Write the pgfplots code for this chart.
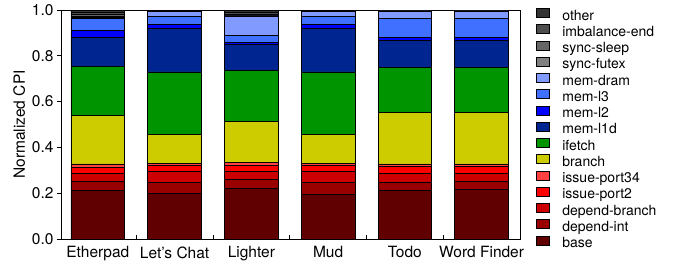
\documentclass[border=0pt]{standalone}
\usepackage{fontspec}
\setmainfont{TeX Gyre Heros}
\usepackage{pgfplots}
\usepackage{pgfplotstable}
\pgfplotsset{compat=1.18}

\definecolor{cother}{HTML}{333333}
\definecolor{cimb}{HTML}{4D4D4D}
\definecolor{csleep}{HTML}{666666}
\definecolor{cfutex}{HTML}{808080}
\definecolor{cdram}{HTML}{809AFF}
\definecolor{cl3}{HTML}{4070FF}
\definecolor{cl2}{HTML}{0000FF}
\definecolor{cl1}{HTML}{002590}
\definecolor{cifetch}{HTML}{009400}
\definecolor{cbranch}{HTML}{CCCC00}
\definecolor{cipb}{HTML}{FF4040}
\definecolor{cipa}{HTML}{FF0000}
\definecolor{cdbr}{HTML}{CC0000}
\definecolor{cdint}{HTML}{990000}
\definecolor{cbase}{HTML}{600000}

\pgfplotstableread{
x base dint dbr ipa ipb branch ifetch lone ltwo lthree dram futex sleep imb other
0 0.212 0.038 0.036 0.028 0.014 0.213 0.212 0.128 0.030 0.054 0.003 0.004 0.008 0.012 0.008
1 0.198 0.049 0.050 0.026 0.008 0.127 0.272 0.192 0.014 0.036 0.022 0.000 0.000 0.003 0.003
2 0.221 0.041 0.032 0.029 0.011 0.181 0.222 0.113 0.010 0.030 0.084 0.003 0.005 0.010 0.008
3 0.195 0.052 0.050 0.023 0.011 0.127 0.272 0.192 0.014 0.036 0.022 0.000 0.000 0.003 0.003
4 0.214 0.035 0.038 0.029 0.012 0.225 0.195 0.118 0.013 0.085 0.032 0.000 0.000 0.002 0.002
5 0.215 0.035 0.037 0.029 0.012 0.225 0.195 0.118 0.013 0.085 0.032 0.000 0.000 0.002 0.002
}\data

\begin{document}
\begin{tikzpicture}
\begin{axis}[
  scale only axis, width=459pt, height=229pt,
  ybar stacked, bar width=0.7,
  xmin=-0.48, xmax=5.5, ymin=0, ymax=1,
  font=\fontsize{15.5}{17}\selectfont,
  /pgf/number format/assume math mode=true,
  xtick={0,1,2,3,4,5},
  xticklabels={Etherpad,Let's Chat,Lighter,Mud,Todo,Word Finder},
  xtick style={draw=none},
  extra x ticks={0.5,1.5,2.5,3.5,4.5},
  extra x tick labels={},
  extra x tick style={tick align=inside, xtick style={draw=black}},
  xtick pos=bottom, ytick pos=left,
  ytick={0,0.2,0.4,0.6,0.8,1.0},
  yticklabel style={/pgf/number format/.cd, fixed, fixed zerofill, precision=1},
  tick align=outside, major tick length=4pt,
  ylabel={Normalized CPI},
  axis line style={line width=0.8pt},
  every tick/.style={black, line width=0.8pt},
  reverse legend,
  legend cell align=left,
  legend style={at={(1.028,1.0)}, anchor=north west, yshift=4pt, draw=none, fill=none,
    font=\fontsize{14}{16}\selectfont,
    nodes={text height=10pt, text depth=3pt, inner sep=1pt},
    row sep=0.45pt},
  legend image code/.code={\draw[#1, line width=0.6pt] (0pt,-1pt) rectangle (13pt,8pt); \path[draw=none, fill=none] (13pt,0pt) -- (25pt,0pt);},
  every axis plot/.append style={draw=black, line width=0.6pt},
]
\addplot[fill=cbase] table[x=x,y=base]{\data}; \addlegendentry{base}
\addplot[fill=cdint] table[x=x,y=dint]{\data}; \addlegendentry{depend-int}
\addplot[fill=cdbr] table[x=x,y=dbr]{\data}; \addlegendentry{depend-branch}
\addplot[fill=cipa] table[x=x,y=ipa]{\data}; \addlegendentry{issue-port2}
\addplot[fill=cipb] table[x=x,y=ipb]{\data}; \addlegendentry{issue-port34}
\addplot[fill=cbranch] table[x=x,y=branch]{\data}; \addlegendentry{branch}
\addplot[fill=cifetch] table[x=x,y=ifetch]{\data}; \addlegendentry{ifetch}
\addplot[fill=cl1] table[x=x,y=lone]{\data}; \addlegendentry{mem-l1d}
\addplot[fill=cl2] table[x=x,y=ltwo]{\data}; \addlegendentry{mem-l2}
\addplot[fill=cl3] table[x=x,y=lthree]{\data}; \addlegendentry{mem-l3}
\addplot[fill=cdram] table[x=x,y=dram]{\data}; \addlegendentry{mem-dram}
\addplot[fill=cfutex] table[x=x,y=futex]{\data}; \addlegendentry{sync-futex}
\addplot[fill=csleep] table[x=x,y=sleep]{\data}; \addlegendentry{sync-sleep}
\addplot[fill=cimb] table[x=x,y=imb]{\data}; \addlegendentry{imbalance-end}
\addplot[fill=cother] table[x=x,y=other]{\data}; \addlegendentry{other}
\end{axis}
\path (current axis.south west) ++(-61pt,-25pt) rectangle ++(675pt,264pt);
\end{tikzpicture}
\end{document}
